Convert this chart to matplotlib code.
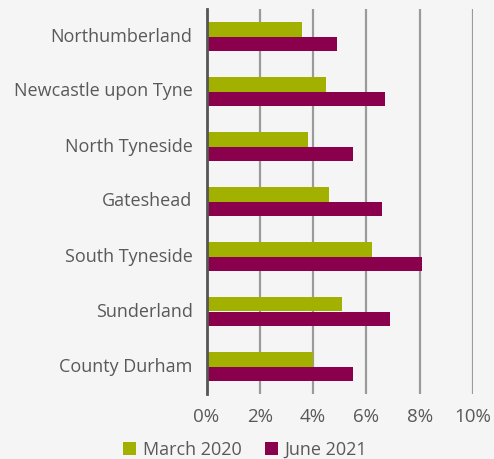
import matplotlib
matplotlib.use("Agg")
import matplotlib.pyplot as plt
import matplotlib.transforms as mtransforms
import numpy as np

areas = ["Northumberland", "Newcastle upon Tyne", "North Tyneside", "Gateshead",
         "South Tyneside", "Sunderland", "County Durham"]
march_2020 = [3.6, 4.5, 3.8, 4.6, 6.2, 5.1, 4.0]
june_2021 = [4.9, 6.7, 5.5, 6.6, 8.1, 6.9, 5.5]
series_labels = ["March 2020", "June 2021"]
xticks = [0, 2, 4, 6, 8, 10]
xtick_labels = ["0%", "2%", "4%", "6%", "8%", "10%"]

bg = "#f5f5f5"
green = "#a2b000"
purple = "#8a004d"
text_c = "#595959"

plt.rcParams["font.family"] = ["Open Sans", "DejaVu Sans"]

fig = plt.figure(figsize=(4.94, 4.59), dpi=100, facecolor=bg)
ax = fig.add_axes([206.5 / 494, 1 - 394 / 459, (473 - 206.5) / 494, (394 - 9) / 459])
ax.set_facecolor(bg)

y = np.arange(len(areas))
h = 0.255
ax.barh(y - h / 2, march_2020, height=h, color=green, label=series_labels[0], zorder=3)
ax.barh(y + h / 2, june_2021, height=h, color=purple, label=series_labels[1], zorder=3)

ax.set_ylim(len(areas) - 0.5, -0.5)
ax.set_xlim(0, 10)
ax.set_yticks(y)
ax.set_yticklabels(areas, fontsize=13, color=text_c)
ax.set_xticks(xticks)
ax.set_xticklabels(xtick_labels, fontsize=13.5, color=text_c)
ax.tick_params(axis="y", length=0, pad=10)
ax.tick_params(axis="x", length=0, pad=10)

# nudge the category labels up slightly
shift = mtransforms.ScaledTranslation(0, 2 / 100, fig.dpi_scale_trans)
for lbl in ax.get_yticklabels():
    lbl.set_transform(lbl.get_transform() + shift)

for s in ["top", "right", "bottom"]:
    ax.spines[s].set_visible(False)
ax.spines["left"].set_color("#555555")
ax.spines["left"].set_linewidth(2)
ax.spines["left"].set_zorder(4)

ax.grid(axis="x", color="#9a9a9a", linewidth=1.6, zorder=1)
ax.set_axisbelow(True)

leg = fig.legend(loc="center", bbox_to_anchor=(245 / 494, 1 - 450 / 459), ncol=2,
                 frameon=False, fontsize=13, handlelength=0.75, handleheight=0.75,
                 handletextpad=0.35, columnspacing=1.3)
for t in leg.get_texts():
    t.set_color(text_c)

fig.savefig("out.png", dpi=100, facecolor=bg)
